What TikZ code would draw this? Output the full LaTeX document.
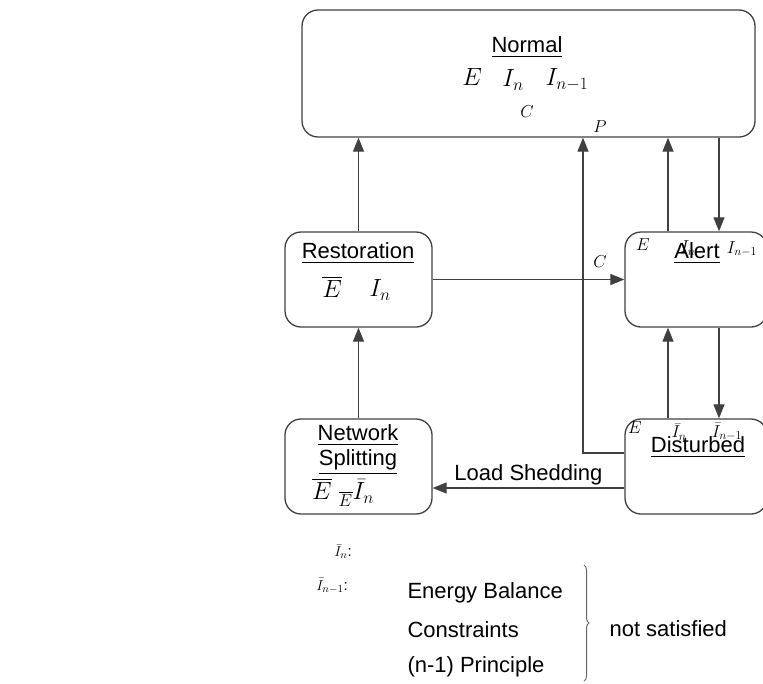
\documentclass[tikz,border=0pt]{standalone}
\usepackage{amsmath,amssymb}
\usepackage{fontspec}
\setmainfont{Liberation Sans}
\usepackage{tikz}
\usetikzlibrary{arrows.meta,decorations.pathreplacing}
\colorlet{LineC}{black!75}

\begin{document}
\begin{tikzpicture}[x=1pt,y=-1pt,
  state/.style={draw=LineC,line width=1.3pt,rounded corners=16pt,inner sep=0pt},
  arr/.style={draw=LineC,line width=1.2pt,-{Triangle[width=11pt,length=14pt]}},
  txt/.style={font=\fontsize{22}{26}\selectfont},
  mth/.style={font=\fontsize{23}{27}\selectfont},
  mid/.style={font=\fontsize{18}{22}\selectfont},
  sml/.style={font=\fontsize{15}{18}\selectfont}]

  \useasboundingbox (0,0) rectangle (763,683);

  \newcommand\Xup{-28pt}
  \newcommand\Xdn{23pt}

  %% states
  \node[state,minimum width=453pt,minimum height=127pt] (normal) at (528.5,73.5) {};
  \node[state,minimum width=147pt,minimum height=95pt] (rest) at (358.5,279.5) {};
  \node[state,minimum width=142pt,minimum height=95pt] (alert) at (696,279.5) {};
  \node[state,minimum width=147pt,minimum height=95pt] (split) at (358.5,466.5) {};
  \node[state,minimum width=142pt,minimum height=95pt] (dist) at (696,466.5) {};

  %% texts in normal
  \node[txt] (tNormal) at (527,47) {\underline{Normal}};
  \node[mth] (nE) at (472,77) {$E$};
  \node[mth] (nIn) at (513,80) {$I_n$};
  \node[mth] (nInm) at (567,80) {$I_{n-1}$};
  \node[mid] (nC) at (527,112) {$C$};

  %% texts in restoration
  \node[txt] (tRest) at (358,253) {\underline{Restoration}};
  \node[mth] (rE) at (332,287) {$\overline{E}$};
  \node[mth] (rIn) at (380,290) {$I_n$};

  %% texts in alert
  \node[mid] (aE) at (643,245) {$E$};
  \node[mid] (aIn) at (688,248) {$I_n$};
  \node[mid] (aInm) at (742,249) {$I_{n-1}$};
  \node[txt] (tAlert) at (697,253) {\underline{Alert}};

  %% texts in disturbed
  \node[mid] (dE) at (635,428) {$E$};
  \node[mid] (dIn) at (679,432) {$\bar{I}_n$};
  \node[mid] (dInm) at (727,432) {$\bar{I}_{n-1}$};
  \node[txt] (tDist) at (698,447) {\underline{Disturbed}};

  %% texts in network splitting
  \node[txt] (tNet) at (358,435) {\underline{Network}};
  \node[txt] (tSplit) at (358,462) {\underline{Splitting}};
  \node[mth] (sE) at (343,492) {$\overline{E}\;{}_{\overline{E}}\bar{I}_n$};

  %% connectors
  \draw[arr] (rest.north) -- (rest.north |- normal.south);
  \coordinate (pbend) at (583,453);
  \draw[arr] (dist.west |- pbend) -- (pbend) -- (pbend |- normal.south);
  \node[mid] (nP) at (600,127) {$P$};
  \draw[arr] ([xshift=\Xup]alert.north) -- ([xshift=\Xup]alert.north |- normal.south);
  \draw[arr] ([xshift=\Xdn]alert.north |- normal.south) -- ([xshift=\Xdn]alert.north);
  \draw[arr] (rest.east) -- (alert.west);
  \node[mid] (lC) at (600,262) {$C$};
  \draw[arr] ([xshift=\Xup]dist.north) -- ([xshift=\Xup]alert.south);
  \draw[arr] ([xshift=\Xdn]alert.south) -- ([xshift=\Xdn]dist.north);
  \draw[arr] (split.north) -- (rest.south);
  \draw[arr] ([yshift=-21.5pt]dist.west) -- ([yshift=-21.5pt]split.east)
    node[txt,pos=0.5,above=-1pt] (lLoad) {Load Shedding};

  %% legend
  \node[sml] (gIn) at (343,552) {$\bar{I}_n$:};
  \node[sml] (gInm) at (332,586) {$\bar{I}_{n-1}$:};
  \node[txt,anchor=west] (gEnergy) at (404,593) {Energy Balance};
  \node[txt,anchor=west] (gCons) at (404,630) {Constraints};
  \node[txt,anchor=west] (gPrin) at (404,667) {(n-1) Principle};
  \draw[black!60,line width=1pt,decorate,decoration={brace,amplitude=5pt}]
    (584,565) -- (584,681);
  \node[txt,anchor=west] (gNot) at (606,629) {not satisfied};

\end{tikzpicture}
\end{document}
